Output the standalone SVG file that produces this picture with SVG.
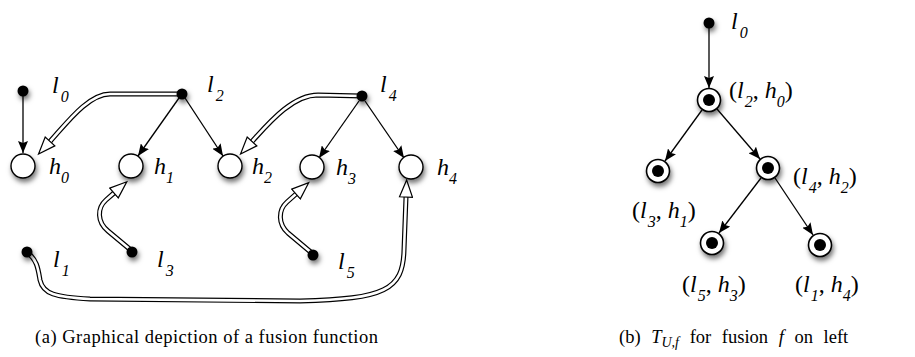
<svg xmlns="http://www.w3.org/2000/svg" width="915" height="357" viewBox="0 0 915 357">
<style>
.v{font-family:"Liberation Serif","DejaVu Serif",serif;font-style:italic;font-size:24px;fill:#000}
.s{font-size:16px}
.up{font-style:normal}
.cap{font-family:"Liberation Serif","DejaVu Serif",serif;font-size:18.5px;fill:#000}
.ci{font-style:italic}
.dot{fill:#000}
.hc{fill:#fff;stroke:#000;stroke-width:1.4}
.tn{fill:#fff;stroke:#000;stroke-width:1.6}
.arr{fill:none;stroke:#000;stroke-width:1.3}
.dout{fill:none;stroke:#000;stroke-width:5;stroke-linejoin:round}
.din{fill:none;stroke:#fff;stroke-width:2.6;stroke-linejoin:round}
</style>
<defs>
<filter id="sh" x="-80%" y="-80%" width="260%" height="260%">
<feDropShadow dx="1.5" dy="3.5" stdDeviation="2.6" flood-color="#000" flood-opacity="0.55"/>
</filter>
<marker id="ah" markerUnits="userSpaceOnUse" markerWidth="12" markerHeight="10" viewBox="0 0 12 10" refX="12" refY="5" orient="auto">
<path d="M0,0 L12,5 L0,10 L2,5 z" fill="#000"/>
</marker>
<marker id="oh" markerUnits="userSpaceOnUse" markerWidth="20" markerHeight="15" viewBox="-1 -1 20 15" refX="0" refY="6.5" orient="auto">
<path d="M0,0 L17,6.5 L0,13 z" fill="#fff" stroke="#000" stroke-width="1.2" stroke-linejoin="miter"/>
</marker>
</defs>

<g id="connectors">
<line class="arr" x1="23" y1="96" x2="23" y2="153" marker-end="url(#ah)"/>
<line class="arr" x1="179" y1="98" x2="138" y2="156" marker-end="url(#ah)"/>
<line class="arr" x1="185" y1="98" x2="223" y2="156" marker-end="url(#ah)"/>
<line class="arr" x1="359" y1="101" x2="319" y2="158" marker-end="url(#ah)"/>
<line class="arr" x1="365" y1="101" x2="404" y2="158" marker-end="url(#ah)"/>
<path class="dout" d="M182,94 L110,94 C88,94 66,124 50,141.5"/>
<path class="din" d="M182,94 L110,94 C88,94 66,124 50,141.5" marker-end="url(#oh)"/>
<path class="dout" d="M362,96 L318,95 C292,95 268,124 252,141.5"/>
<path class="din" d="M362,96 L318,95 C292,95 268,124 252,141.5" marker-end="url(#oh)"/>
<path class="dout" d="M132,251 L108,231 C97,222 97,208 106,200 L114,193"/>
<path class="din" d="M132,251 L108,231 C97,222 97,208 106,200 L114,193" marker-end="url(#oh)"/>
<path class="dout" d="M313,254 L288,233 C278,224 278,210 287,202 L296,194"/>
<path class="din" d="M313,254 L288,233 C278,224 278,210 287,202 L296,194" marker-end="url(#oh)"/>
<path class="dout" d="M27,252 C37,260 38,268 40,280 C43,294 55,297 90,299 L300,301 C385,299 403,290 404,250 L406,197"/>
<path class="din" d="M27,252 C37,260 38,268 40,280 C43,294 55,297 90,299 L300,301 C385,299 403,290 404,250 L406,197" marker-end="url(#oh)"/>
<line class="arr" x1="709" y1="28" x2="709" y2="88" marker-end="url(#ah)"/>
<line class="arr" x1="702" y1="110" x2="665" y2="161" marker-end="url(#ah)"/>
<line class="arr" x1="717" y1="109" x2="760" y2="159" marker-end="url(#ah)"/>
<line class="arr" x1="761" y1="178" x2="719" y2="233" marker-end="url(#ah)"/>
<line class="arr" x1="775" y1="178" x2="813" y2="235" marker-end="url(#ah)"/>
</g>

<g id="n-l0"><circle class="dot" cx="23" cy="91" r="5.5" filter="url(#sh)"/><text class="v" x="52" y="93">l<tspan class="s" dx="2" dy="9">0</tspan></text></g>
<g id="n-l2"><circle class="dot" cx="182" cy="94" r="5.5" filter="url(#sh)"/><text class="v" x="207" y="92">l<tspan class="s" dx="2" dy="9">2</tspan></text></g>
<g id="n-l4"><circle class="dot" cx="362" cy="96" r="5.5" filter="url(#sh)"/><text class="v" x="380" y="92">l<tspan class="s" dx="2" dy="9">4</tspan></text></g>
<g id="n-h0"><circle class="hc" cx="23" cy="166" r="12" filter="url(#sh)"/><text class="v" x="49" y="174">h<tspan class="s" dy="9">0</tspan></text></g>
<g id="n-h1"><circle class="hc" cx="131" cy="166" r="12" filter="url(#sh)"/><text class="v" x="154" y="174">h<tspan class="s" dy="9">1</tspan></text></g>
<g id="n-h2"><circle class="hc" cx="230" cy="166" r="12" filter="url(#sh)"/><text class="v" x="252" y="174">h<tspan class="s" dy="9">2</tspan></text></g>
<g id="n-h3"><circle class="hc" cx="312" cy="167" r="12" filter="url(#sh)"/><text class="v" x="336" y="175">h<tspan class="s" dy="9">3</tspan></text></g>
<g id="n-h4"><circle class="hc" cx="411" cy="167" r="12" filter="url(#sh)"/><text class="v" x="437" y="175">h<tspan class="s" dy="9">4</tspan></text></g>
<g id="n-l1"><circle class="dot" cx="27" cy="252" r="5.5" filter="url(#sh)"/><text class="v" x="53" y="267">l<tspan class="s" dx="2" dy="9">1</tspan></text></g>
<g id="n-l3"><circle class="dot" cx="132" cy="252" r="5.5" filter="url(#sh)"/><text class="v" x="157" y="267">l<tspan class="s" dx="2" dy="9">3</tspan></text></g>
<g id="n-l5"><circle class="dot" cx="313" cy="255" r="5.5" filter="url(#sh)"/><text class="v" x="338" y="269">l<tspan class="s" dx="2" dy="9">5</tspan></text></g>

<g id="t-l0"><circle class="dot" cx="709" cy="23" r="5.5" filter="url(#sh)"/><text class="v" x="731" y="29">l<tspan class="s" dx="2" dy="9">0</tspan></text></g>
<g id="t-l2h0"><circle class="tn" cx="709" cy="100" r="11.5" filter="url(#sh)"/><circle class="dot" cx="709" cy="100" r="6"/>
<text class="v" x="729" y="98"><tspan class="up">(</tspan>l<tspan class="s" dx="1" dy="9">2</tspan><tspan class="up" dy="-9">, </tspan>h<tspan class="s" dy="9">0</tspan><tspan class="up" dy="-9">)</tspan></text></g>
<g id="t-l3h1"><circle class="tn" cx="658" cy="171" r="11.5" filter="url(#sh)"/><circle class="dot" cx="658" cy="171" r="6"/>
<text class="v" x="632" y="218"><tspan class="up">(</tspan>l<tspan class="s" dx="1" dy="9">3</tspan><tspan class="up" dy="-9">, </tspan>h<tspan class="s" dy="9">1</tspan><tspan class="up" dy="-9">)</tspan></text></g>
<g id="t-l4h2"><circle class="tn" cx="768" cy="168" r="11.5" filter="url(#sh)"/><circle class="dot" cx="768" cy="168" r="6"/>
<text class="v" x="793" y="184"><tspan class="up">(</tspan>l<tspan class="s" dx="1" dy="9">4</tspan><tspan class="up" dy="-9">, </tspan>h<tspan class="s" dy="9">2</tspan><tspan class="up" dy="-9">)</tspan></text></g>
<g id="t-l5h3"><circle class="tn" cx="712" cy="243" r="11.5" filter="url(#sh)"/><circle class="dot" cx="712" cy="243" r="6"/>
<text class="v" x="682" y="292"><tspan class="up">(</tspan>l<tspan class="s" dx="1" dy="9">5</tspan><tspan class="up" dy="-9">, </tspan>h<tspan class="s" dy="9">3</tspan><tspan class="up" dy="-9">)</tspan></text></g>
<g id="t-l1h4"><circle class="tn" cx="820" cy="245" r="11.5" filter="url(#sh)"/><circle class="dot" cx="820" cy="245" r="6"/>
<text class="v" x="795" y="292"><tspan class="up">(</tspan>l<tspan class="s" dx="1" dy="9">1</tspan><tspan class="up" dy="-9">, </tspan>h<tspan class="s" dy="9">4</tspan><tspan class="up" dy="-9">)</tspan></text></g>

<g id="captions">
<text class="cap" x="35" y="343" textLength="343" lengthAdjust="spacing">(a) Graphical depiction of a fusion function</text>
<text class="cap" x="619" y="343" font-size="19.5" word-spacing="6">(b) <tspan class="ci">T</tspan><tspan class="ci" font-size="14" dy="4">U,f</tspan><tspan dy="-4"> for fusion </tspan><tspan class="ci">f</tspan> on left</text>
</g>
</svg>
